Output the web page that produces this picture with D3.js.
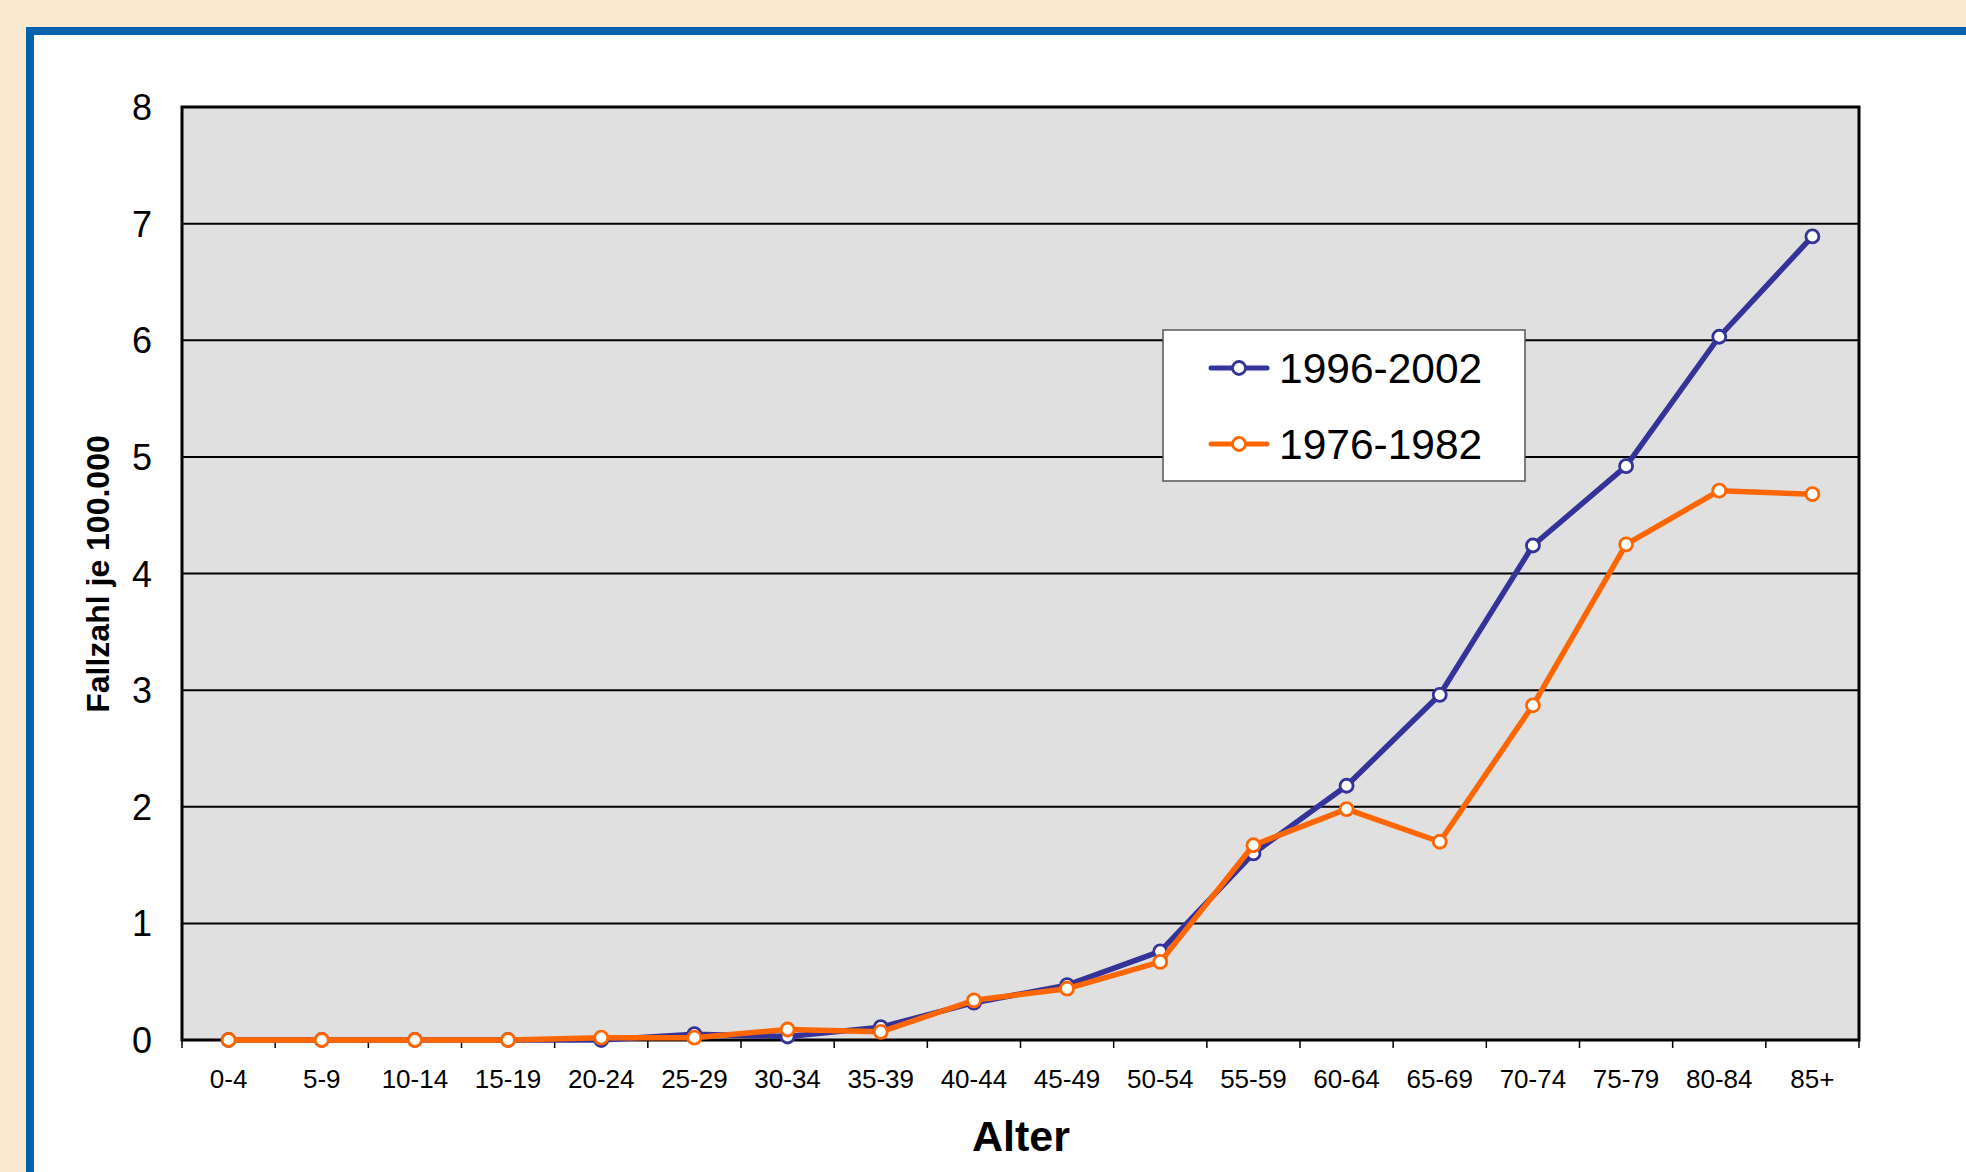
<!DOCTYPE html>
<html><head><meta charset="utf-8">
<script src="https://cdn.jsdelivr.net/npm/d3@7"></script>
<style>
html,body{margin:0;padding:0;background:#FCE9D2;}
svg{display:block;font-family:"Liberation Sans",Arial,Helvetica,sans-serif;}
</style></head><body>
<svg id="chart" width="1966" height="1172"></svg>
<script>
const categories = ["0-4","5-9","10-14","15-19","20-24","25-29","30-34","35-39","40-44","45-49","50-54","55-59","60-64","65-69","70-74","75-79","80-84","85+"];
const series1996 = [0,0,0,0,0.0,0.05,0.03,0.11,0.32,0.47,0.76,1.60,2.18,2.96,4.24,4.92,6.03,6.89];
const series1976 = [0,0,0,0,0.02,0.02,0.09,0.07,0.34,0.44,0.67,1.67,1.98,1.70,2.87,4.25,4.71,4.68];
const yTicks = [0,1,2,3,4,5,6,7,8];
const seriesNames = ["1996-2002","1976-1982"];
const seriesColors = ["#333399","#FF6600"];

const svg = d3.select("#chart");
// panel
svg.append("rect").attr("x",0).attr("y",0).attr("width",1966).attr("height",1172).attr("fill","#FCE9D2");
svg.append("rect").attr("x",30).attr("y",31).attr("width",1966).attr("height",1200)
  .attr("fill","#fff").attr("stroke","#0062AC").attr("stroke-width",8);

const L=182,R=1859,T=107,B=1040;
const x = d3.scaleBand().domain(categories).range([L,R]);
const y = d3.scaleLinear().domain([0,8]).range([B,T]);

svg.append("rect").attr("x",L).attr("y",T).attr("width",R-L).attr("height",B-T).attr("fill","#E0E0E0");

// gridlines
svg.append("g").selectAll("line").data(yTicks).join("line")
  .attr("x1",L).attr("x2",R).attr("y1",d=>y(d)).attr("y2",d=>y(d))
  .attr("stroke","#000").attr("stroke-width",2);

// y labels
svg.append("g").selectAll("text").data(yTicks).join("text")
  .attr("x",152).attr("y",d=>y(d)+13).attr("text-anchor","end")
  .attr("font-size",36).attr("fill","#000").text(d=>d);

// x axis ticks
const bounds = d3.range(categories.length+1).map(i=>L+i*x.bandwidth());
svg.append("g").selectAll("line").data(bounds).join("line")
  .attr("x1",d=>d).attr("x2",d=>d).attr("y1",B).attr("y2",B+8)
  .attr("stroke","#000").attr("stroke-width",1.5);
svg.append("g").selectAll("text").data(categories).join("text")
  .attr("x",d=>x(d)+x.bandwidth()/2).attr("y",1088).attr("text-anchor","middle")
  .attr("font-size",26).attr("fill","#000").text(d=>d);

// plot border
svg.append("rect").attr("x",L).attr("y",T).attr("width",R-L).attr("height",B-T)
  .attr("fill","none").attr("stroke","#000").attr("stroke-width",3);

// axis titles
svg.append("text").attr("x",1021).attr("y",1151).attr("text-anchor","middle")
  .attr("font-size",43).attr("font-weight","bold").text("Alter");
svg.append("text").attr("transform","translate(109,574) rotate(-90)").attr("text-anchor","middle")
  .attr("font-size",32).attr("font-weight","bold").text("Fallzahl je 100.000");

// lines
const line = d3.line().x((d,i)=>x(categories[i])+x.bandwidth()/2).y(d=>y(d));
[series1996, series1976].forEach((s,k)=>{
  const g = svg.append("g");
  g.append("path").datum(s).attr("d",line).attr("fill","none")
    .attr("stroke",seriesColors[k]).attr("stroke-width",5.5).attr("stroke-linejoin","round");
  g.selectAll("circle").data(s).join("circle")
    .attr("cx",(d,i)=>x(categories[i])+x.bandwidth()/2).attr("cy",d=>y(d)).attr("r",6.5)
    .attr("fill","#fff").attr("stroke",seriesColors[k]).attr("stroke-width",2.8);
});

// legend
const lg = svg.append("g");
lg.append("rect").attr("x",1163).attr("y",330).attr("width",362).attr("height",151)
  .attr("fill","#fff").attr("stroke","#555").attr("stroke-width",1.5);
seriesNames.forEach((n,k)=>{
  const cy = [368,444][k];
  lg.append("line").attr("x1",1211).attr("x2",1267).attr("y1",cy).attr("y2",cy)
    .attr("stroke",seriesColors[k]).attr("stroke-width",5).attr("stroke-linecap","round");
  lg.append("circle").attr("cx",1239).attr("cy",cy).attr("r",6.5)
    .attr("fill","#fff").attr("stroke",seriesColors[k]).attr("stroke-width",2.8);
  lg.append("text").attr("x",1279).attr("y",cy+15).attr("font-size",42.5).attr("fill","#000").text(n);
});
</script>
</body></html>
